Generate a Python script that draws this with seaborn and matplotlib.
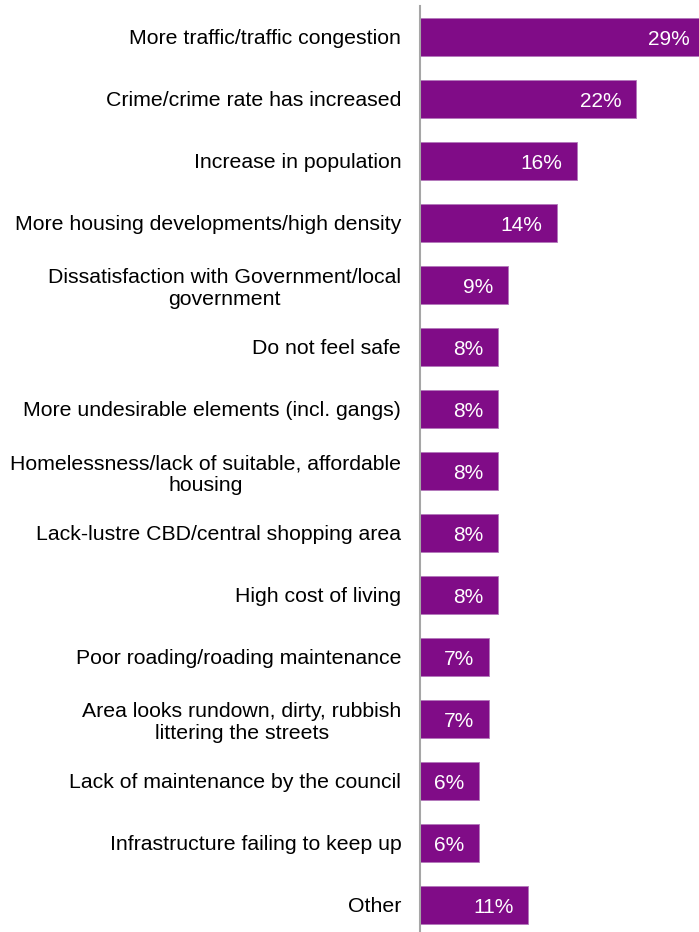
import matplotlib
matplotlib.use("Agg")
import matplotlib.pyplot as plt
import seaborn as sns
import pandas as pd

categories = [
    "More traffic/traffic congestion",
    "Crime/crime rate has increased",
    "Increase in population",
    "More housing developments/high density",
    "Dissatisfaction with Government/local\ngovernment",
    "Do not feel safe",
    "More undesirable elements (incl. gangs)",
    "Homelessness/lack of suitable, affordable\nhousing",
    "Lack-lustre CBD/central shopping area",
    "High cost of living",
    "Poor roading/roading maintenance",
    "Area looks rundown, dirty, rubbish\nlittering the streets",
    "Lack of maintenance by the council",
    "Infrastructure failing to keep up",
    "Other",
]
values = [29, 22, 16, 14, 9, 8, 8, 8, 8, 8, 7, 7, 6, 6, 11]

df = pd.DataFrame({"cat": categories, "val": values})

sns.set_style("white")
plt.rcParams["font.family"] = ["Liberation Sans", "DejaVu Sans"]

fig = plt.figure(figsize=(6.99, 9.32), dpi=100)
ax = fig.add_axes([420 / 699, -4 / 932, 279 / 699, 930 / 932])

purple = "#800C87"
sns.barplot(data=df, x="val", y="cat", orient="h", color=purple, width=0.61,
            saturation=1, ax=ax, edgecolor="#B378BA", linewidth=0.6)

ax.set_xlim(0, 28.45)
ax.set_ylim(len(categories) - 0.5, -0.5)
ax.set_xlabel("")
ax.set_ylabel("")
ax.set_xticks([])
for s in ["top", "right", "bottom"]:
    ax.spines[s].set_visible(False)
ax.spines["left"].set_color("#A6A6A6")
ax.spines["left"].set_linewidth(1.5)
ax.tick_params(axis="y", length=0, pad=13.5, labelsize=15.3, colors="#000000")
for t in ax.get_yticklabels():
    t.set_multialignment("center")
    t.set_linespacing(1.2)

for i, v in enumerate(values):
    ax.annotate(f"{v}%", xy=(v, i), xytext=(-10.5, -1.5), textcoords="offset points",
                ha="right", va="center", color="white", fontsize=15,
                annotation_clip=False)

fig.savefig("out.png", dpi=100)
